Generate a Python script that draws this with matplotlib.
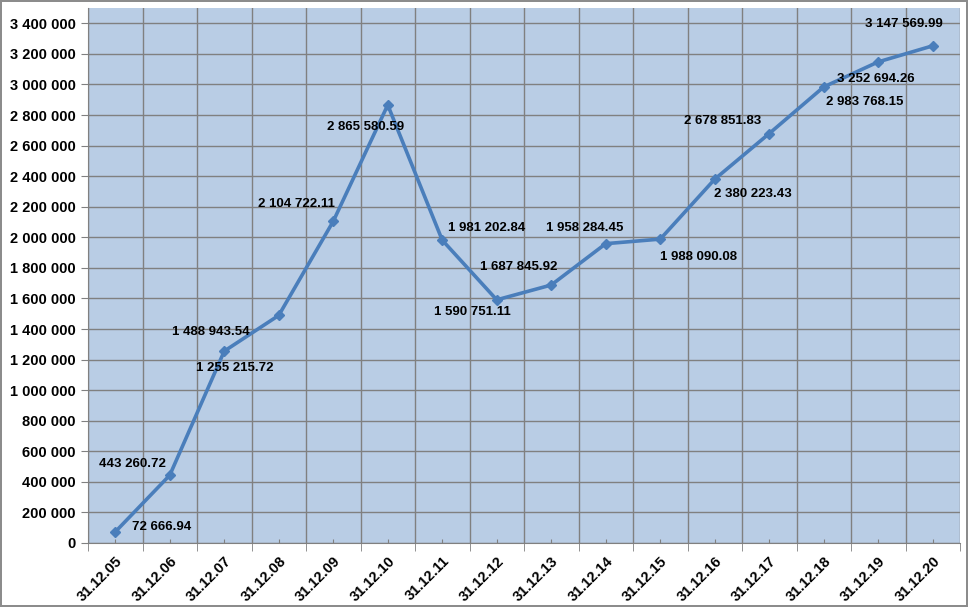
import matplotlib
matplotlib.use("Agg")
import matplotlib.pyplot as plt
from matplotlib.ticker import FuncFormatter

dates = ["31.12.05", "31.12.06", "31.12.07", "31.12.08", "31.12.09", "31.12.10",
         "31.12.11", "31.12.12", "31.12.13", "31.12.14", "31.12.15", "31.12.16",
         "31.12.17", "31.12.18", "31.12.19", "31.12.20"]
values = [72666.94, 443260.72, 1255215.72, 1488943.54, 2104722.11, 2865580.59,
          1981202.84, 1590751.11, 1687845.92, 1958284.45, 1988090.08, 2380223.43,
          2678851.83, 2983768.15, 3147569.99, 3252694.26]
labels = ["72 666.94", "443 260.72", "1 255 215.72", "1 488 943.54", "2 104 722.11",
          "2 865 580.59", "1 981 202.84", "1 590 751.11", "1 687 845.92", "1 958 284.45",
          "1 988 090.08", "2 380 223.43", "2 678 851.83", "2 983 768.15", "3 252 694.26",
          "3 147 569.99"]
# label offsets in pixels (dx, dy) relative to the point, dy positive = up
offsets = [(46, 5), (-37, 11), (11, -17), (-68, -17), (-37, 17), (-22, -22),
           (44, 12), (-24, -12), (-33, 18), (-21, 16), (38, -18), (38, -15),
           (-47, 13), (41, -15), (-2, -17), (-29, 22)]

fig = plt.figure(figsize=(9.68, 6.07), dpi=100)
fig.patch.set_facecolor("white")
fig.patch.set_edgecolor("#8c8c8c")
fig.patch.set_linewidth(1.5)

ax = fig.add_axes([88/968, 1-543/607, (960-88)/968, (543-8)/607])
ax.set_facecolor("#B9CDE5")
x = list(range(len(dates)))
ax.plot(x, values, color="#4A7EBB", lw=2.6, marker="D", ms=5, zorder=3)

ax.set_xlim(-0.5, len(dates) - 0.5)
ax.set_ylim(0, 3500000)
ax.set_yticks([i * 200000 for i in range(18)])
ax.yaxis.set_major_formatter(FuncFormatter(lambda v, p: f"{int(v):,}".replace(",", " ")))

ax.set_xticks(x)
ax.set_xticklabels(dates, rotation=45, ha="right", va="top", rotation_mode="anchor")
ax.set_xticks([i - 0.5 for i in range(len(dates) + 1)], minor=True)
ax.tick_params(axis="x", which="major", length=3, direction="in", color="#808080", pad=8)
ax.tick_params(axis="x", which="minor", length=6, direction="out", color="#808080")
ax.tick_params(axis="y", length=5, direction="out", color="#808080", pad=4)
for lab in ax.get_xticklabels() + ax.get_yticklabels():
    lab.set_fontfamily("Liberation Sans")
    lab.set_fontweight("bold")
    lab.set_fontsize(10.5)

ax.grid(True, which="minor", axis="x", color="#808080", lw=1)
ax.grid(True, which="major", axis="y", color="#808080", lw=1)
ax.set_axisbelow(True)
for s in ["top", "right"]:
    ax.spines[s].set_visible(False)
for s in ["left", "bottom"]:
    ax.spines[s].set_color("#808080")

for xi, v, lab, (dx, dy) in zip(x, values, labels, offsets):
    ax.annotate(lab, (xi, v), xytext=(dx * 0.72, dy * 0.72), textcoords="offset points",
                ha="center", va="center", fontsize=9.5, fontweight="bold",
                family="Liberation Sans", color="black", zorder=4)

fig.savefig("out.png", dpi=100)
